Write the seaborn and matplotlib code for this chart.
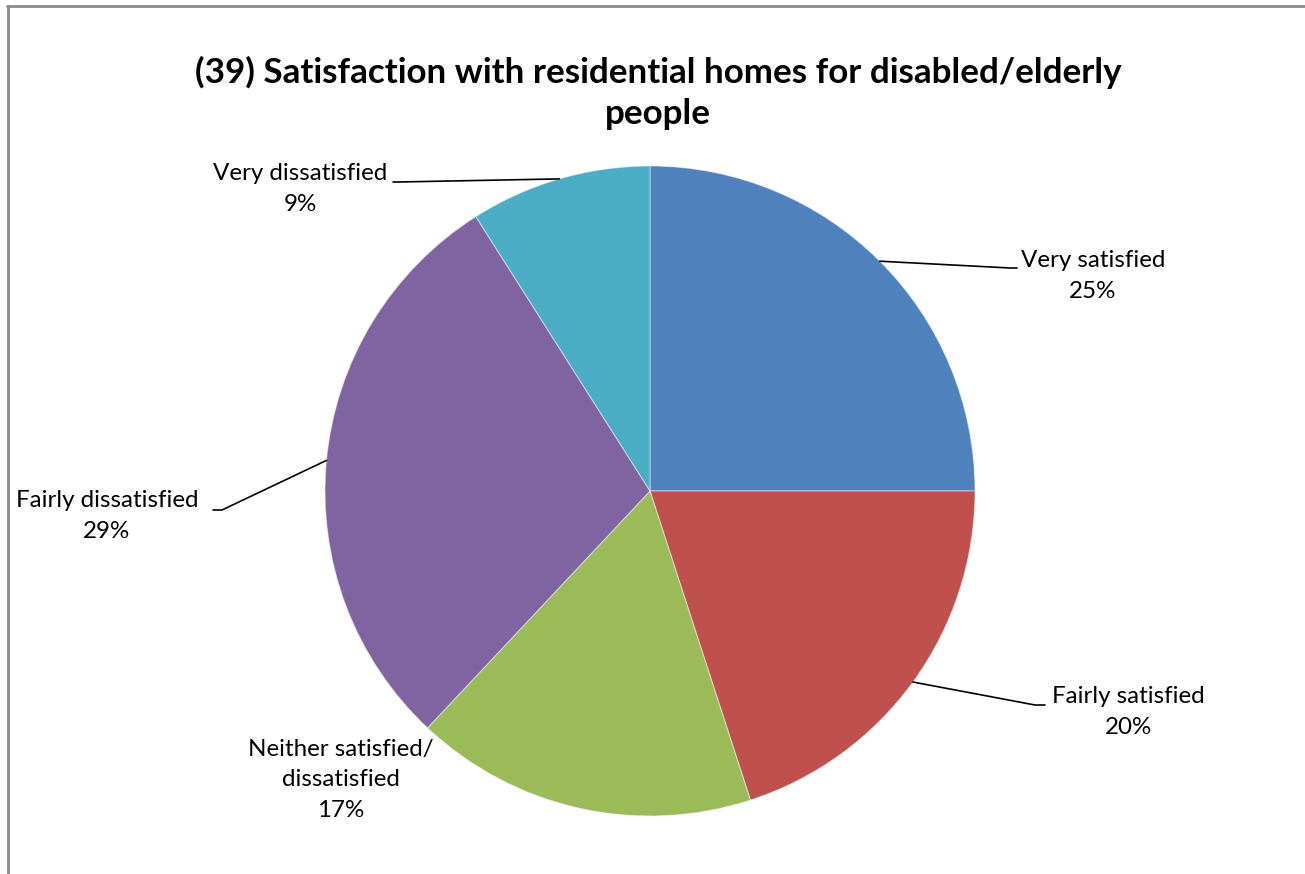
import matplotlib
matplotlib.use("Agg")
import matplotlib.pyplot as plt
from matplotlib.lines import Line2D
import numpy as np
import seaborn as sns

categories = ["Very satisfied", "Fairly satisfied", "Neither satisfied/\ndissatisfied",
              "Fairly dissatisfied", "Very dissatisfied"]
values = [25, 20, 17, 29, 9]
colors = ["#4F81BD", "#C0504D", "#9BBB59", "#8064A2", "#4BACC6"]
title = "(39) Satisfaction with residential homes for disabled/elderly\npeople"

sns.set_theme(style="white")
plt.rcParams["font.family"] = ["Lato", "DejaVu Sans"]
plt.rcParams["text.color"] = "black"

W, H = 1305, 874
fig = plt.figure(figsize=(W / 100, H / 100), dpi=100)

# pie geometry in pixels
cx, cy, R = 650, 491, 325
ax = fig.add_axes([(cx - R) / W, (H - cy - R) / H, 2 * R / W, 2 * R / H])

wedges, _ = ax.pie(values, colors=colors, startangle=90, counterclock=False,
                   radius=1, center=(0, 0),
                   wedgeprops=dict(edgecolor=(1, 1, 1, 0.45), linewidth=0.8))
ax.set_xlim(-1, 1)
ax.set_ylim(-1, 1)
ax.set_aspect("equal")
ax.axis("off")


def px(x, y):
    return (x - cx) / R, (cy - y) / R


# label placement (pixel coordinates) and leader elbows
label_pos = [(1093, 276), (1128, 712), (341, 780), (107, 516), (300, 189)]
elbows = [[(1010, 268), (1017, 268)],
          [(1035, 705), (1045, 705)],
          None,
          [(222, 510), (213, 510)],
          [(398, 182), (393, 182)]]

total = sum(values)
for w, cat, v, pos, elb in zip(wedges, categories, values, label_pos, elbows):
    mid = np.deg2rad((w.theta1 + w.theta2) / 2)
    sx, sy = np.cos(mid), np.sin(mid)
    tx, ty = px(*pos)
    ax.text(tx, ty, f"{cat}\n{round(100 * v / total)}%", ha="center", va="center",
            fontsize=17.4, color="black", linespacing=1.55, clip_on=False)
    if elb is not None:
        pts = [(sx, sy)] + [px(*p) for p in elb]
        xs, ys = zip(*pts)
        ax.add_line(Line2D(xs, ys, color="black", lw=1.2, clip_on=False))

fig.text(658 / W, 1 - 93 / H, title, ha="center", va="center", fontsize=25.2,
         fontweight="bold", color="black", linespacing=1.35)

# chart area border (top and left edges)
fig.add_artist(Line2D([7 / W, 1], [1 - 5.5 / H, 1 - 5.5 / H], color="#8a8a8a", lw=2,
                      transform=fig.transFigure))
fig.add_artist(Line2D([7.5 / W, 7.5 / W], [0, 1 - 5.5 / H], color="#8a8a8a", lw=2,
                      transform=fig.transFigure))

fig.savefig("out.png", dpi=100, facecolor="white")
